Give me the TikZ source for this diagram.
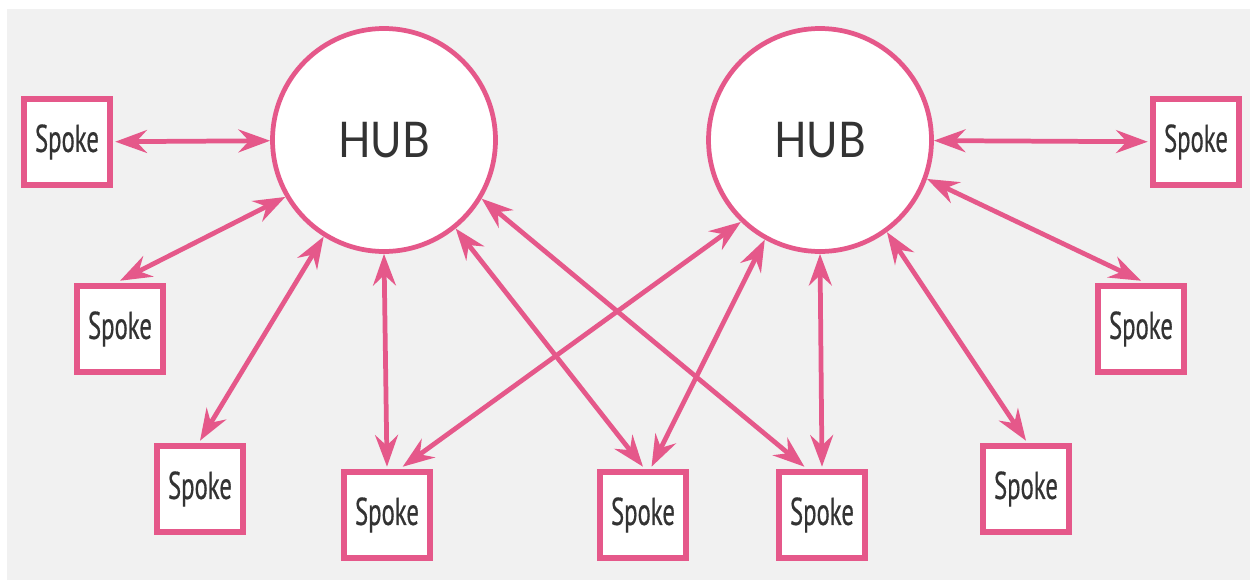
\documentclass[tikz,border=0pt]{standalone}
\usepackage{fontspec}
\usetikzlibrary{arrows.meta}
\newfontfamily\hubfont[FakeStretch=0.87]{Lato}
\newfontfamily\spokefont[FakeStretch=0.64,FakeBold=0.5]{PT Sans}
\definecolor{hubpink}{HTML}{E5588A}
\definecolor{hubgray}{HTML}{F1F1F1}
\definecolor{hubtext}{HTML}{333333}
\tikzset{
	hub/.style={circle, draw=hubpink, line width=2.7pt, fill=white, minimum size=4.46cm, inner sep=0pt, text=hubtext, font=\hubfont\fontsize{28}{30}\selectfont},
	spoke/.style={rectangle, draw=hubpink, line width=3.2pt, fill=white, minimum size=1.72cm, inner sep=0pt, outer sep=3pt, text=hubtext, font=\spokefont\fontsize{22}{24}\selectfont},
	link/.style={draw=hubpink, line width=2.7pt, {Stealth[length=18pt,width=13pt,inset=6pt]}-{Stealth[length=18pt,width=13pt,inset=6pt]}}
}
\begin{document}
\begin{tikzpicture}
	\useasboundingbox (0,0) rectangle (25,11.62);
	\fill[hubgray] (0.14,0.02) rectangle (25,11.44);
	\node[hub] (hubL) at (7.68,8.82) {HUB};
	\node[hub] (hubR) at (16.40,8.82) {HUB};
	\foreach \n/\x/\y in {s1/1.34/8.78, s2/2.40/5.04, s3/4.00/1.84, s4/7.74/1.32, s5/12.86/1.32,
		s6/16.44/1.32, s7/20.52/1.84, s8/22.82/5.04, s9/23.92/8.78}
	\node[spoke] (\n) at (\x,\y) {Spoke};
	\foreach \a/\b in {s1/hubL, hubL.210/s2.north, hubL.238/s3.north, hubL.south/s4.north,
		hubL.-51/s5.north, hubL.-31/s6.110, hubR.226/s4.72, hubR.241/s5.80,
		hubR.south/s6.north, hubR.-54/s7.north, hubR.-20/s8.north, hubR/s9}
	\draw[link] (\a) -- (\b);
\end{tikzpicture}
\end{document}
